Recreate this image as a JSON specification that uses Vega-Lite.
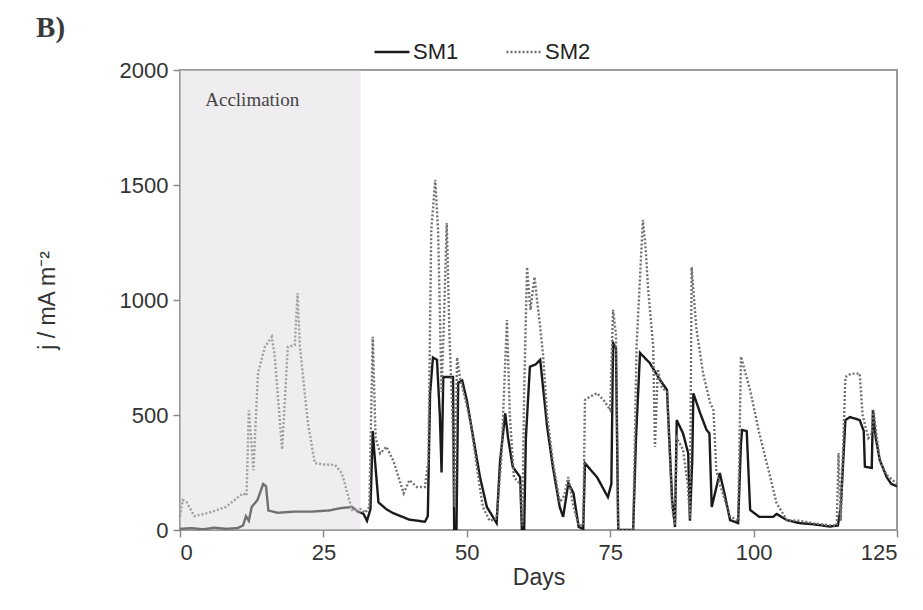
{
  "$schema": "https://vega.github.io/schema/vega-lite/v6.json",
  "width": 717,
  "height": 460,
  "autosize": {"type": "none"},
  "padding": {"left": 180, "top": 70, "right": 26, "bottom": 80},
  "background": "white",
  "title": {"text": "B)", "anchor": "start", "frame": "bounds", "font": "Liberation Serif", "fontSize": 29, "fontWeight": "bold", "color": "#3a3a3a", "offset": -10},
  "config": {
    "view": {"stroke": "#9a9a9a", "strokeWidth": 2},
    "axis": {"grid": false, "domain": false, "tickColor": "#8a8a8a", "tickWidth": 1.5, "tickSize": 7, "labelFont": "Liberation Sans", "labelFontSize": 22, "labelColor": "#333", "titleFont": "Liberation Sans", "titleFontSize": 23, "titleFontWeight": "normal", "titleColor": "#333"},
    "legend": {"labelFont": "Liberation Sans", "labelFontSize": 22, "labelColor": "#222"}
  },
  "datasets": {
    "series": [
      {"d":0,"v":5,"s":"SM1"},{"d":2,"v":8,"s":"SM1"},{"d":4,"v":3,"s":"SM1"},{"d":6,"v":10,"s":"SM1"},{"d":8,"v":5,"s":"SM1"},{"d":10,"v":8,"s":"SM1"},{"d":11,"v":20,"s":"SM1"},{"d":11.5,"v":60,"s":"SM1"},{"d":12,"v":40,"s":"SM1"},{"d":12.5,"v":100,"s":"SM1"},{"d":13.5,"v":130,"s":"SM1"},{"d":14.5,"v":200,"s":"SM1"},{"d":15,"v":190,"s":"SM1"},{"d":15.4,"v":85,"s":"SM1"},{"d":17,"v":75,"s":"SM1"},{"d":20,"v":80,"s":"SM1"},{"d":23,"v":80,"s":"SM1"},{"d":26,"v":85,"s":"SM1"},{"d":28,"v":95,"s":"SM1"},{"d":30,"v":100,"s":"SM1"},{"d":31,"v":80,"s":"SM1"},{"d":32,"v":70,"s":"SM1"},{"d":32.6,"v":40,"s":"SM1"},{"d":33.2,"v":90,"s":"SM1"},{"d":33.6,"v":430,"s":"SM1"},{"d":34,"v":300,"s":"SM1"},{"d":34.6,"v":120,"s":"SM1"},{"d":36,"v":90,"s":"SM1"},{"d":37.2,"v":73,"s":"SM1"},{"d":39,"v":55,"s":"SM1"},{"d":40,"v":45,"s":"SM1"},{"d":42.7,"v":36,"s":"SM1"},{"d":43.2,"v":60,"s":"SM1"},{"d":43.6,"v":594,"s":"SM1"},{"d":44.1,"v":750,"s":"SM1"},{"d":44.8,"v":740,"s":"SM1"},{"d":45.3,"v":500,"s":"SM1"},{"d":45.6,"v":250,"s":"SM1"},{"d":45.9,"v":665,"s":"SM1"},{"d":47.6,"v":665,"s":"SM1"},{"d":47.8,"v":0,"s":"SM1"},{"d":48.2,"v":0,"s":"SM1"},{"d":48.5,"v":640,"s":"SM1"},{"d":49.2,"v":650,"s":"SM1"},{"d":50,"v":565,"s":"SM1"},{"d":51,"v":420,"s":"SM1"},{"d":52.3,"v":230,"s":"SM1"},{"d":53.5,"v":100,"s":"SM1"},{"d":55.2,"v":30,"s":"SM1"},{"d":55.8,"v":300,"s":"SM1"},{"d":56.7,"v":507,"s":"SM1"},{"d":57.2,"v":400,"s":"SM1"},{"d":58,"v":275,"s":"SM1"},{"d":59.3,"v":230,"s":"SM1"},{"d":59.6,"v":0,"s":"SM1"},{"d":60,"v":0,"s":"SM1"},{"d":60.3,"v":400,"s":"SM1"},{"d":61,"v":710,"s":"SM1"},{"d":62,"v":720,"s":"SM1"},{"d":62.8,"v":740,"s":"SM1"},{"d":64,"v":450,"s":"SM1"},{"d":65,"v":275,"s":"SM1"},{"d":66.2,"v":100,"s":"SM1"},{"d":66.8,"v":57,"s":"SM1"},{"d":67.7,"v":204,"s":"SM1"},{"d":68.6,"v":160,"s":"SM1"},{"d":69.5,"v":13,"s":"SM1"},{"d":70.3,"v":5,"s":"SM1"},{"d":70.6,"v":290,"s":"SM1"},{"d":72.7,"v":230,"s":"SM1"},{"d":74.6,"v":143,"s":"SM1"},{"d":75.2,"v":200,"s":"SM1"},{"d":75.5,"v":813,"s":"SM1"},{"d":76,"v":790,"s":"SM1"},{"d":76.4,"v":0,"s":"SM1"},{"d":79,"v":0,"s":"SM1"},{"d":79.5,"v":400,"s":"SM1"},{"d":80.2,"v":770,"s":"SM1"},{"d":81.9,"v":726,"s":"SM1"},{"d":83.7,"v":652,"s":"SM1"},{"d":84.9,"v":609,"s":"SM1"},{"d":85.8,"v":130,"s":"SM1"},{"d":86.3,"v":13,"s":"SM1"},{"d":86.6,"v":478,"s":"SM1"},{"d":87.7,"v":420,"s":"SM1"},{"d":88.6,"v":333,"s":"SM1"},{"d":88.9,"v":40,"s":"SM1"},{"d":89.3,"v":300,"s":"SM1"},{"d":89.5,"v":594,"s":"SM1"},{"d":90.7,"v":507,"s":"SM1"},{"d":91.8,"v":435,"s":"SM1"},{"d":92.3,"v":420,"s":"SM1"},{"d":92.7,"v":100,"s":"SM1"},{"d":94.1,"v":248,"s":"SM1"},{"d":95,"v":150,"s":"SM1"},{"d":95.9,"v":43,"s":"SM1"},{"d":97.3,"v":30,"s":"SM1"},{"d":97.8,"v":380,"s":"SM1"},{"d":98,"v":435,"s":"SM1"},{"d":98.8,"v":430,"s":"SM1"},{"d":99.4,"v":87,"s":"SM1"},{"d":101,"v":57,"s":"SM1"},{"d":103.4,"v":57,"s":"SM1"},{"d":104,"v":70,"s":"SM1"},{"d":105.8,"v":43,"s":"SM1"},{"d":108,"v":30,"s":"SM1"},{"d":110.4,"v":25,"s":"SM1"},{"d":113.3,"v":15,"s":"SM1"},{"d":114.7,"v":20,"s":"SM1"},{"d":115.2,"v":100,"s":"SM1"},{"d":116,"v":478,"s":"SM1"},{"d":116.8,"v":491,"s":"SM1"},{"d":118.5,"v":478,"s":"SM1"},{"d":119.2,"v":430,"s":"SM1"},{"d":119.4,"v":275,"s":"SM1"},{"d":120.6,"v":270,"s":"SM1"},{"d":120.8,"v":522,"s":"SM1"},{"d":121.3,"v":400,"s":"SM1"},{"d":122,"v":304,"s":"SM1"},{"d":123.2,"v":230,"s":"SM1"},{"d":124,"v":200,"s":"SM1"},{"d":125,"v":190,"s":"SM1"},
      {"d":0,"v":60,"s":"SM2"},{"d":0.5,"v":130,"s":"SM2"},{"d":1.2,"v":120,"s":"SM2"},{"d":2.5,"v":60,"s":"SM2"},{"d":5,"v":75,"s":"SM2"},{"d":8,"v":100,"s":"SM2"},{"d":10,"v":140,"s":"SM2"},{"d":11,"v":160,"s":"SM2"},{"d":11.6,"v":150,"s":"SM2"},{"d":12,"v":520,"s":"SM2"},{"d":12.4,"v":400,"s":"SM2"},{"d":12.8,"v":260,"s":"SM2"},{"d":13.6,"v":682,"s":"SM2"},{"d":14.8,"v":796,"s":"SM2"},{"d":16,"v":840,"s":"SM2"},{"d":16.5,"v":760,"s":"SM2"},{"d":17.8,"v":350,"s":"SM2"},{"d":18.8,"v":796,"s":"SM2"},{"d":20,"v":804,"s":"SM2"},{"d":20.5,"v":1030,"s":"SM2"},{"d":20.9,"v":800,"s":"SM2"},{"d":22.3,"v":465,"s":"SM2"},{"d":23.5,"v":291,"s":"SM2"},{"d":25,"v":285,"s":"SM2"},{"d":27,"v":283,"s":"SM2"},{"d":28.2,"v":248,"s":"SM2"},{"d":30,"v":87,"s":"SM2"},{"d":31.5,"v":90,"s":"SM2"},{"d":32.3,"v":75,"s":"SM2"},{"d":33,"v":100,"s":"SM2"},{"d":33.6,"v":840,"s":"SM2"},{"d":34.1,"v":400,"s":"SM2"},{"d":34.9,"v":333,"s":"SM2"},{"d":36,"v":362,"s":"SM2"},{"d":37.2,"v":300,"s":"SM2"},{"d":39,"v":160,"s":"SM2"},{"d":40,"v":217,"s":"SM2"},{"d":41.3,"v":187,"s":"SM2"},{"d":42.7,"v":187,"s":"SM2"},{"d":43.3,"v":300,"s":"SM2"},{"d":43.8,"v":1300,"s":"SM2"},{"d":44.5,"v":1522,"s":"SM2"},{"d":45,"v":1300,"s":"SM2"},{"d":45.6,"v":600,"s":"SM2"},{"d":46,"v":900,"s":"SM2"},{"d":46.5,"v":1335,"s":"SM2"},{"d":47,"v":826,"s":"SM2"},{"d":47.5,"v":500,"s":"SM2"},{"d":47.9,"v":100,"s":"SM2"},{"d":48.3,"v":750,"s":"SM2"},{"d":48.8,"v":665,"s":"SM2"},{"d":50.6,"v":478,"s":"SM2"},{"d":51.6,"v":300,"s":"SM2"},{"d":52.8,"v":100,"s":"SM2"},{"d":54,"v":40,"s":"SM2"},{"d":55.2,"v":50,"s":"SM2"},{"d":56,"v":300,"s":"SM2"},{"d":57,"v":913,"s":"SM2"},{"d":57.5,"v":500,"s":"SM2"},{"d":58.2,"v":230,"s":"SM2"},{"d":59.3,"v":200,"s":"SM2"},{"d":59.7,"v":20,"s":"SM2"},{"d":60,"v":600,"s":"SM2"},{"d":60.5,"v":1143,"s":"SM2"},{"d":61.1,"v":957,"s":"SM2"},{"d":61.8,"v":1100,"s":"SM2"},{"d":62.8,"v":880,"s":"SM2"},{"d":63.3,"v":760,"s":"SM2"},{"d":64,"v":500,"s":"SM2"},{"d":65,"v":300,"s":"SM2"},{"d":66.2,"v":120,"s":"SM2"},{"d":67,"v":150,"s":"SM2"},{"d":67.7,"v":230,"s":"SM2"},{"d":68.6,"v":100,"s":"SM2"},{"d":69.5,"v":20,"s":"SM2"},{"d":70.3,"v":20,"s":"SM2"},{"d":70.6,"v":565,"s":"SM2"},{"d":71.5,"v":580,"s":"SM2"},{"d":72.7,"v":595,"s":"SM2"},{"d":74,"v":560,"s":"SM2"},{"d":75,"v":522,"s":"SM2"},{"d":75.5,"v":957,"s":"SM2"},{"d":76,"v":850,"s":"SM2"},{"d":76.4,"v":0,"s":"SM2"},{"d":79,"v":0,"s":"SM2"},{"d":79.6,"v":800,"s":"SM2"},{"d":80.7,"v":1348,"s":"SM2"},{"d":81.2,"v":1217,"s":"SM2"},{"d":81.6,"v":1050,"s":"SM2"},{"d":82.5,"v":796,"s":"SM2"},{"d":82.8,"v":361,"s":"SM2"},{"d":83.3,"v":700,"s":"SM2"},{"d":84,"v":620,"s":"SM2"},{"d":84.9,"v":600,"s":"SM2"},{"d":85.8,"v":100,"s":"SM2"},{"d":86.3,"v":20,"s":"SM2"},{"d":86.6,"v":400,"s":"SM2"},{"d":87.7,"v":350,"s":"SM2"},{"d":88.5,"v":200,"s":"SM2"},{"d":88.9,"v":50,"s":"SM2"},{"d":89.2,"v":1143,"s":"SM2"},{"d":90,"v":880,"s":"SM2"},{"d":91.2,"v":680,"s":"SM2"},{"d":92.4,"v":555,"s":"SM2"},{"d":93,"v":520,"s":"SM2"},{"d":93.5,"v":260,"s":"SM2"},{"d":94.1,"v":200,"s":"SM2"},{"d":95.9,"v":60,"s":"SM2"},{"d":97.3,"v":40,"s":"SM2"},{"d":97.8,"v":754,"s":"SM2"},{"d":99.4,"v":608,"s":"SM2"},{"d":101,"v":420,"s":"SM2"},{"d":102.9,"v":230,"s":"SM2"},{"d":104,"v":117,"s":"SM2"},{"d":105.8,"v":43,"s":"SM2"},{"d":108,"v":40,"s":"SM2"},{"d":110.4,"v":30,"s":"SM2"},{"d":113.3,"v":20,"s":"SM2"},{"d":114.5,"v":20,"s":"SM2"},{"d":114.8,"v":335,"s":"SM2"},{"d":115.2,"v":40,"s":"SM2"},{"d":116,"v":665,"s":"SM2"},{"d":117,"v":680,"s":"SM2"},{"d":118.5,"v":680,"s":"SM2"},{"d":119,"v":500,"s":"SM2"},{"d":120,"v":400,"s":"SM2"},{"d":120.6,"v":420,"s":"SM2"},{"d":120.9,"v":520,"s":"SM2"},{"d":122,"v":300,"s":"SM2"},{"d":123.2,"v":240,"s":"SM2"},{"d":125,"v":200,"s":"SM2"}
    ],
    "period": [{"start": 0, "end": 31.5, "low": 0, "high": 2000, "label": "Acclimation", "lx": 4.4, "ly": 1870}]
  },
  "layer": [
    {
      "data": {"name": "series"},
      "mark": {"type": "line", "strokeWidth": 2.4, "clip": true},
      "encoding": {
        "x": {"field": "d", "type": "quantitative", "scale": {"domain": [0, 125], "nice": false}, "axis": {"values": [0, 25, 50, 75, 100, 125], "format": "d", "title": "Days", "labelPadding": 5, "titlePadding": 3}},
        "y": {"field": "v", "type": "quantitative", "scale": {"domain": [0, 2000], "nice": false}, "axis": {"values": [0, 500, 1000, 1500, 2000], "format": "d", "title": "j / mA m⁻²", "labelPadding": 5, "titlePadding": 60}},
        "color": {"field": "s", "type": "nominal", "scale": {"domain": ["SM1", "SM2"], "range": ["#1a1a1a", "#707070"]}, "legend": {"title": null, "orient": "none", "direction": "horizontal", "legendX": 193, "legendY": -37, "symbolType": "stroke", "symbolSize": 1225, "symbolStrokeWidth": 2.5, "columnPadding": 42, "labelOffset": 2}},
        "strokeDash": {"field": "s", "type": "nominal", "scale": {"domain": ["SM1", "SM2"], "range": [[1, 0], [2, 2]]}, "legend": {"title": null, "orient": "none", "direction": "horizontal", "legendX": 193, "legendY": -37, "symbolType": "stroke", "symbolSize": 1225, "symbolStrokeWidth": 2.5, "columnPadding": 42, "labelOffset": 2}}
      }
    },
    {
      "data": {"name": "period"},
      "mark": {"type": "rect", "fill": "#dcd8dc", "opacity": 0.45},
      "encoding": {
        "x": {"field": "start", "type": "quantitative"},
        "x2": {"field": "end"},
        "y": {"field": "low", "type": "quantitative"},
        "y2": {"field": "high"}
      }
    },
    {
      "data": {"name": "period"},
      "mark": {"type": "text", "align": "left", "baseline": "middle", "font": "Liberation Serif", "fontSize": 19, "color": "#444"},
      "encoding": {
        "x": {"field": "lx", "type": "quantitative"},
        "y": {"field": "ly", "type": "quantitative"},
        "text": {"field": "label"}
      }
    }
  ]
}
